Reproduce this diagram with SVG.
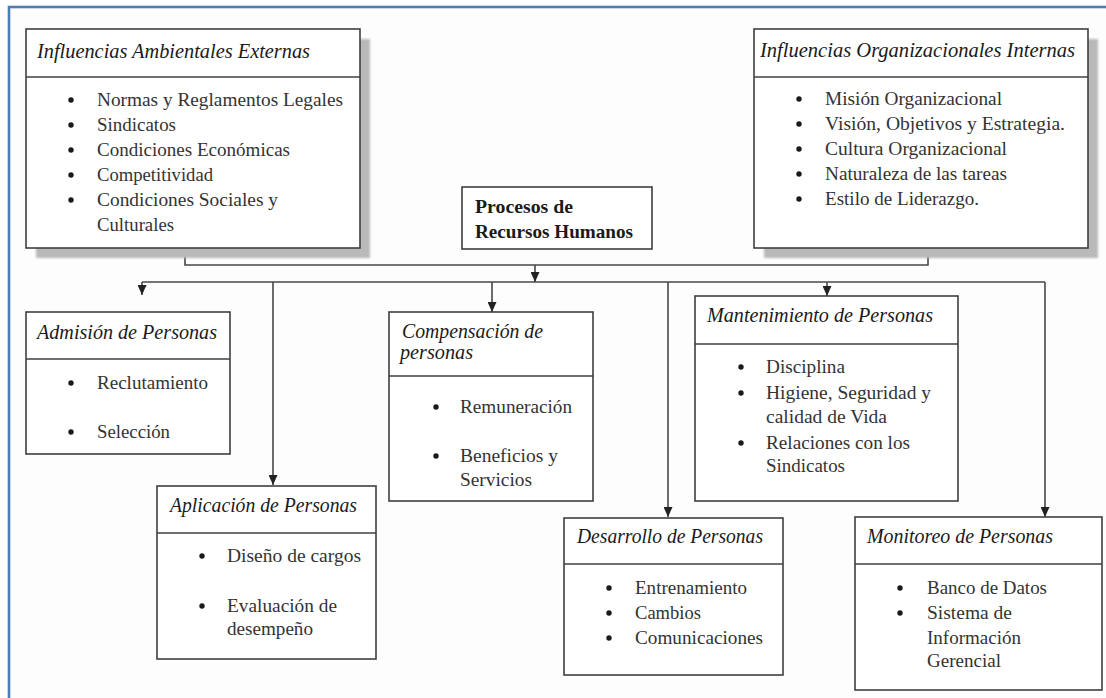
<svg xmlns="http://www.w3.org/2000/svg" width="1106" height="698" viewBox="0 0 1106 698">
<defs>
<style>
.box{fill:#ffffff;stroke:#3f3f3f;stroke-width:1.6}
.div{stroke:#3f3f3f;stroke-width:1.6}
.sh{fill:#b9b9b9;filter:url(#blur)}
.t{font-family:"Liberation Serif","Times New Roman",serif;font-style:italic;font-size:20px;fill:#1a1a1a}
.b{font-family:"Liberation Serif","Times New Roman",serif;font-size:19px;fill:#333333}
.pb{font-family:"Liberation Serif","Times New Roman",serif;font-weight:bold;font-size:19px;fill:#1a1a1a}
.dot{fill:#1a1a1a}
.c{fill:none;stroke:#474747;stroke-width:1.6}
</style>
<filter id="blur" x="-10%" y="-10%" width="120%" height="120%"><feGaussianBlur stdDeviation="1.2"/></filter>
<marker id="arr" markerUnits="userSpaceOnUse" markerWidth="11" markerHeight="9" refX="10" refY="4.5" orient="auto">
<path d="M0,0 L10,4.5 L0,9 z" fill="#222"/>
</marker>
</defs>
<rect x="0" y="0" width="1106" height="698" fill="#ffffff"/>
<rect id="frame" x="9" y="7" width="1110" height="710" fill="#fdfdfe" stroke="#4d7db5" stroke-width="2.6"/>

<g id="connectors">
<path class="c" d="M185,249 V265 H928 V249"/>
<path class="c" d="M535,265 V282" marker-end="url(#arr)"/>
<path class="c" d="M142,282 H1045"/>
<path class="c" d="M142,282 V295" marker-end="url(#arr)"/>
<path class="c" d="M273,282 V485" marker-end="url(#arr)"/>
<path class="c" d="M492,282 V312" marker-end="url(#arr)"/>
<path class="c" d="M668,282 V517" marker-end="url(#arr)"/>
<path class="c" d="M827,282 V296" marker-end="url(#arr)"/>
<path class="c" d="M1045,282 V517" marker-end="url(#arr)"/>
</g>

<g id="externas">
<rect class="sh" x="36" y="39" width="334" height="219"/>
<rect class="box" x="26" y="29" width="334" height="219"/>
<line class="div" x1="26" y1="77" x2="360" y2="77"/>
<text class="t" x="37" y="58" textLength="273" lengthAdjust="spacingAndGlyphs">Influencias Ambientales Externas</text>
<circle class="dot" cx="71" cy="100" r="2.7"/><text class="b" x="97" y="106" textLength="246" lengthAdjust="spacingAndGlyphs">Normas y Reglamentos Legales</text>
<circle class="dot" cx="71" cy="125" r="2.7"/><text class="b" x="97" y="131" textLength="79" lengthAdjust="spacingAndGlyphs">Sindicatos</text>
<circle class="dot" cx="71" cy="150" r="2.7"/><text class="b" x="97" y="156" textLength="193" lengthAdjust="spacingAndGlyphs">Condiciones Económicas</text>
<circle class="dot" cx="71" cy="175" r="2.7"/><text class="b" x="97" y="181" textLength="116" lengthAdjust="spacingAndGlyphs">Competitividad</text>
<circle class="dot" cx="71" cy="200" r="2.7"/><text class="b" x="97" y="206" textLength="181" lengthAdjust="spacingAndGlyphs">Condiciones Sociales y</text>
<text class="b" x="97" y="231" textLength="77" lengthAdjust="spacingAndGlyphs">Culturales</text>
</g>

<g id="internas">
<rect class="sh" x="764" y="39" width="334" height="219"/>
<rect class="box" x="754" y="29" width="334" height="219"/>
<line class="div" x1="754" y1="77" x2="1088" y2="77"/>
<text class="t" x="760" y="57" textLength="315" lengthAdjust="spacingAndGlyphs">Influencias Organizacionales Internas</text>
<circle class="dot" cx="799" cy="99" r="2.7"/><text class="b" x="825" y="105" textLength="177" lengthAdjust="spacingAndGlyphs">Misión Organizacional</text>
<circle class="dot" cx="799" cy="124" r="2.7"/><text class="b" x="825" y="130" textLength="240" lengthAdjust="spacingAndGlyphs">Visión, Objetivos y Estrategia.</text>
<circle class="dot" cx="799" cy="149" r="2.7"/><text class="b" x="825" y="155" textLength="182" lengthAdjust="spacingAndGlyphs">Cultura Organizacional</text>
<circle class="dot" cx="799" cy="174" r="2.7"/><text class="b" x="825" y="180" textLength="182" lengthAdjust="spacingAndGlyphs">Naturaleza de las tareas</text>
<circle class="dot" cx="799" cy="199" r="2.7"/><text class="b" x="825" y="205" textLength="154" lengthAdjust="spacingAndGlyphs">Estilo de Liderazgo.</text>
</g>

<g id="procesos">
<rect class="box" x="462" y="187" width="190" height="62"/>
<text class="pb" x="475" y="213" textLength="98" lengthAdjust="spacingAndGlyphs">Procesos de</text>
<text class="pb" x="475" y="238" textLength="158" lengthAdjust="spacingAndGlyphs">Recursos Humanos</text>
</g>

<g id="admision">
<rect class="box" x="26" y="312" width="204" height="142"/>
<line class="div" x1="26" y1="359" x2="230" y2="359"/>
<text class="t" x="37" y="339" textLength="180" lengthAdjust="spacingAndGlyphs">Admisión de Personas</text>
<circle class="dot" cx="71" cy="383" r="2.7"/><text class="b" x="97" y="389" textLength="111" lengthAdjust="spacingAndGlyphs">Reclutamiento</text>
<circle class="dot" cx="71" cy="432" r="2.7"/><text class="b" x="97" y="438" textLength="73" lengthAdjust="spacingAndGlyphs">Selección</text>
</g>

<g id="aplicacion">
<rect class="box" x="157" y="486" width="219" height="173"/>
<line class="div" x1="157" y1="533" x2="376" y2="533"/>
<text class="t" x="170" y="512" textLength="187" lengthAdjust="spacingAndGlyphs">Aplicación de Personas</text>
<circle class="dot" cx="202" cy="556" r="2.7"/><text class="b" x="227" y="562" textLength="134" lengthAdjust="spacingAndGlyphs">Diseño de cargos</text>
<circle class="dot" cx="202" cy="606" r="2.7"/><text class="b" x="227" y="612" textLength="110" lengthAdjust="spacingAndGlyphs">Evaluación de</text>
<text class="b" x="227" y="635" textLength="86" lengthAdjust="spacingAndGlyphs">desempeño</text>
</g>

<g id="compensacion">
<rect class="box" x="389" y="312" width="204" height="189"/>
<line class="div" x1="389" y1="376" x2="593" y2="376"/>
<text class="t" x="402" y="338" textLength="141" lengthAdjust="spacingAndGlyphs">Compensación de</text>
<text class="t" x="400" y="359" textLength="73" lengthAdjust="spacingAndGlyphs">personas</text>
<circle class="dot" cx="436" cy="407" r="2.7"/><text class="b" x="460" y="413" textLength="112" lengthAdjust="spacingAndGlyphs">Remuneración</text>
<circle class="dot" cx="436" cy="456" r="2.7"/><text class="b" x="460" y="462" textLength="98" lengthAdjust="spacingAndGlyphs">Beneficios y</text>
<text class="b" x="460" y="486" textLength="72" lengthAdjust="spacingAndGlyphs">Servicios</text>
</g>

<g id="mantenimiento">
<rect class="box" x="695" y="296" width="263" height="205"/>
<line class="div" x1="695" y1="344" x2="958" y2="344"/>
<text class="t" x="707" y="322" textLength="226" lengthAdjust="spacingAndGlyphs">Mantenimiento de Personas</text>
<circle class="dot" cx="741" cy="367" r="2.7"/><text class="b" x="766" y="373" textLength="79" lengthAdjust="spacingAndGlyphs">Disciplina</text>
<circle class="dot" cx="741" cy="393" r="2.7"/><text class="b" x="766" y="399" textLength="165" lengthAdjust="spacingAndGlyphs">Higiene, Seguridad y</text>
<text class="b" x="766" y="423" textLength="121" lengthAdjust="spacingAndGlyphs">calidad de Vida</text>
<circle class="dot" cx="741" cy="443" r="2.7"/><text class="b" x="766" y="449" textLength="144" lengthAdjust="spacingAndGlyphs">Relaciones con los</text>
<text class="b" x="766" y="472" textLength="79" lengthAdjust="spacingAndGlyphs">Sindicatos</text>
</g>

<g id="desarrollo">
<rect class="box" x="564" y="518" width="219" height="157"/>
<line class="div" x1="564" y1="564" x2="783" y2="564"/>
<text class="t" x="577" y="543" textLength="186" lengthAdjust="spacingAndGlyphs">Desarrollo de Personas</text>
<circle class="dot" cx="609" cy="588" r="2.7"/><text class="b" x="635" y="594" textLength="112" lengthAdjust="spacingAndGlyphs">Entrenamiento</text>
<circle class="dot" cx="609" cy="613" r="2.7"/><text class="b" x="635" y="619" textLength="66" lengthAdjust="spacingAndGlyphs">Cambios</text>
<circle class="dot" cx="609" cy="638" r="2.7"/><text class="b" x="635" y="644" textLength="128" lengthAdjust="spacingAndGlyphs">Comunicaciones</text>
</g>

<g id="monitoreo">
<rect class="box" x="855" y="517" width="247" height="173"/>
<line class="div" x1="855" y1="564" x2="1102" y2="564"/>
<text class="t" x="867" y="543" textLength="186" lengthAdjust="spacingAndGlyphs">Monitoreo de Personas</text>
<circle class="dot" cx="900" cy="588" r="2.7"/><text class="b" x="927" y="594" textLength="120" lengthAdjust="spacingAndGlyphs">Banco de Datos</text>
<circle class="dot" cx="900" cy="613" r="2.7"/><text class="b" x="927" y="619" textLength="85" lengthAdjust="spacingAndGlyphs">Sistema de</text>
<text class="b" x="927" y="644" textLength="94" lengthAdjust="spacingAndGlyphs">Información</text>
<text class="b" x="927" y="667" textLength="74" lengthAdjust="spacingAndGlyphs">Gerencial</text>
</g>
</svg>
